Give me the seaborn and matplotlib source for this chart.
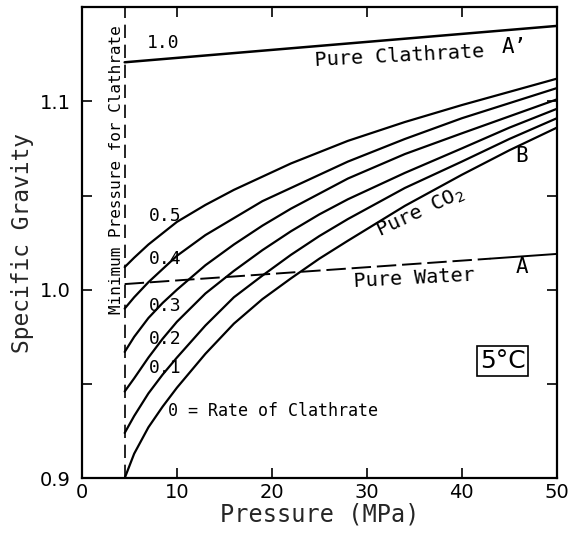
import matplotlib
matplotlib.use("Agg")
import matplotlib.pyplot as plt
import seaborn as sns
import pandas as pd
from matplotlib.ticker import MultipleLocator

sns.set_style("ticks")
plt.rcParams['font.family'] = ['DejaVu Sans']

# Pressure grid (MPa)
pressure = [4.5, 5.5, 7, 8.5, 10, 13, 16, 19, 22, 25, 28, 34, 40, 45, 50]
# Specific gravity for each clathrate rate
rate_labels = ["0", "0.1", "0.2", "0.3", "0.4", "0.5"]
sg_0   = [0.900, 0.913, 0.927, 0.938, 0.948, 0.966, 0.982, 0.995, 1.006, 1.0165, 1.026, 1.0445, 1.061, 1.074, 1.086]
sg_0_1 = [0.924, 0.933, 0.945, 0.955, 0.964, 0.981, 0.996, 1.0075, 1.0185, 1.0285, 1.0375, 1.054, 1.068, 1.080, 1.091]
sg_0_2 = [0.946, 0.953, 0.964, 0.974, 0.983, 0.998, 1.010, 1.021, 1.031, 1.040, 1.048, 1.062, 1.075, 1.086, 1.096]
sg_0_3 = [0.967, 0.975, 0.985, 0.993, 1.000, 1.013, 1.024, 1.034, 1.043, 1.051, 1.059, 1.072, 1.083, 1.092, 1.101]
sg_0_4 = [0.990, 0.996, 1.004, 1.011, 1.018, 1.029, 1.038, 1.047, 1.054, 1.061, 1.068, 1.080, 1.091, 1.099, 1.107]
sg_0_5 = [1.012, 1.017, 1.024, 1.030, 1.036, 1.045, 1.053, 1.060, 1.067, 1.073, 1.079, 1.089, 1.098, 1.105, 1.112]

clath_p = [4.5, 50]
clath_sg = [1.1207, 1.140]
water_p_dash = [4.5, 43]
water_sg_dash = [1.003, 1.0165]
water_p_solid = [43, 50]
water_sg_solid = [1.0165, 1.019]
min_p = 4.5

series = [sg_0, sg_0_1, sg_0_2, sg_0_3, sg_0_4, sg_0_5]
rows = []
for lab, vals in zip(rate_labels, series):
    for p, v in zip(pressure, vals):
        rows.append({"P": p, "SG": v, "rate": lab})
df = pd.DataFrame(rows)

MONO = ['DejaVu Sans Mono']

fig = plt.figure(figsize=(5.77, 5.44), dpi=100)
ax = fig.add_axes([0.142, 0.121, 0.823, 0.866])

sns.lineplot(data=df, x="P", y="SG", units="rate", estimator=None,
             color="black", lw=1.6, ax=ax, sort=False)
sns.lineplot(x=clath_p, y=clath_sg, color="black", lw=1.8, ax=ax)
sns.lineplot(x=water_p_dash, y=water_sg_dash, color="black", lw=1.4, ax=ax)
ax.lines[-1].set_linestyle((0, (10, 3)))
sns.lineplot(x=water_p_solid, y=water_sg_solid, color="black", lw=1.4, ax=ax)
ax.axvline(min_p, color="black", lw=1.2, ls=(0, (8, 4)))

ax.set_xlim(0, 50)
ax.set_ylim(0.9, 1.15)
ax.yaxis.set_minor_locator(MultipleLocator(0.05))
ax.set_xticks([0, 10, 20, 30, 40, 50])
ax.set_xticklabels(["0", "10", "20", "30", "40", "50"])
ax.set_yticks([0.9, 1.0, 1.1])
ax.set_yticklabels(["0.9", "1.0", "1.1"])
ax.tick_params(which="both", direction="in", top=True, right=True,
               length=7, width=1.2, labelsize=14, colors="black")
ax.tick_params(axis="y", which="major", pad=8)
for s in ax.spines.values():
    s.set_linewidth(1.6)
    s.set_color("black")

ax.set_xlabel("Pressure (MPa)", fontsize=17, labelpad=0, family=MONO)
ax.set_ylabel("Specific Gravity", fontsize=16.5, labelpad=4, family=MONO)

kw = dict(color="black", family=MONO)
ax.text(8.5, 1.131, "1.0", fontsize=13, ha="center", va="center", **kw)
ax.text(33.4, 1.1239, "Pure Clathrate", fontsize=14.5, ha="center", va="center", rotation=3, **kw)
ax.text(45.5, 1.129, "A\u2019", fontsize=15, ha="center", va="center", **kw)
ax.text(46.3, 1.071, "B", fontsize=15, ha="center", va="center", **kw)
ax.text(35.6, 1.041, "Pure CO$_2$", fontsize=14.5, ha="center", va="center", rotation=25, **kw)
ax.text(35.0, 1.0062, "Pure Water", fontsize=14.5, ha="center", va="center", rotation=3, **kw)
ax.text(46.3, 1.012, "A", fontsize=15, ha="center", va="center", **kw)
for lab, yy in zip(["0.5", "0.4", "0.3", "0.2", "0.1"],
                   [1.039, 1.0165, 0.9915, 0.974, 0.9585]):
    ax.text(8.8, yy, lab, fontsize=13, ha="center", va="center", **kw)
ax.text(9.1, 0.9356, "0 = Rate of Clathrate", fontsize=12, ha="left", va="center", **kw)
ax.text(44.3, 0.962, "5\u00b0C", fontsize=18, ha="center", va="center",
        bbox=dict(boxstyle="square,pad=0.12", fc="white", ec="black", lw=1.2),
        color="black")
ax.text(3.6, 1.064, "Minimum Pressure for Clathrate", fontsize=11.5, rotation=90,
        ha="center", va="center", **kw)

fig.savefig("out.png", dpi=100)
